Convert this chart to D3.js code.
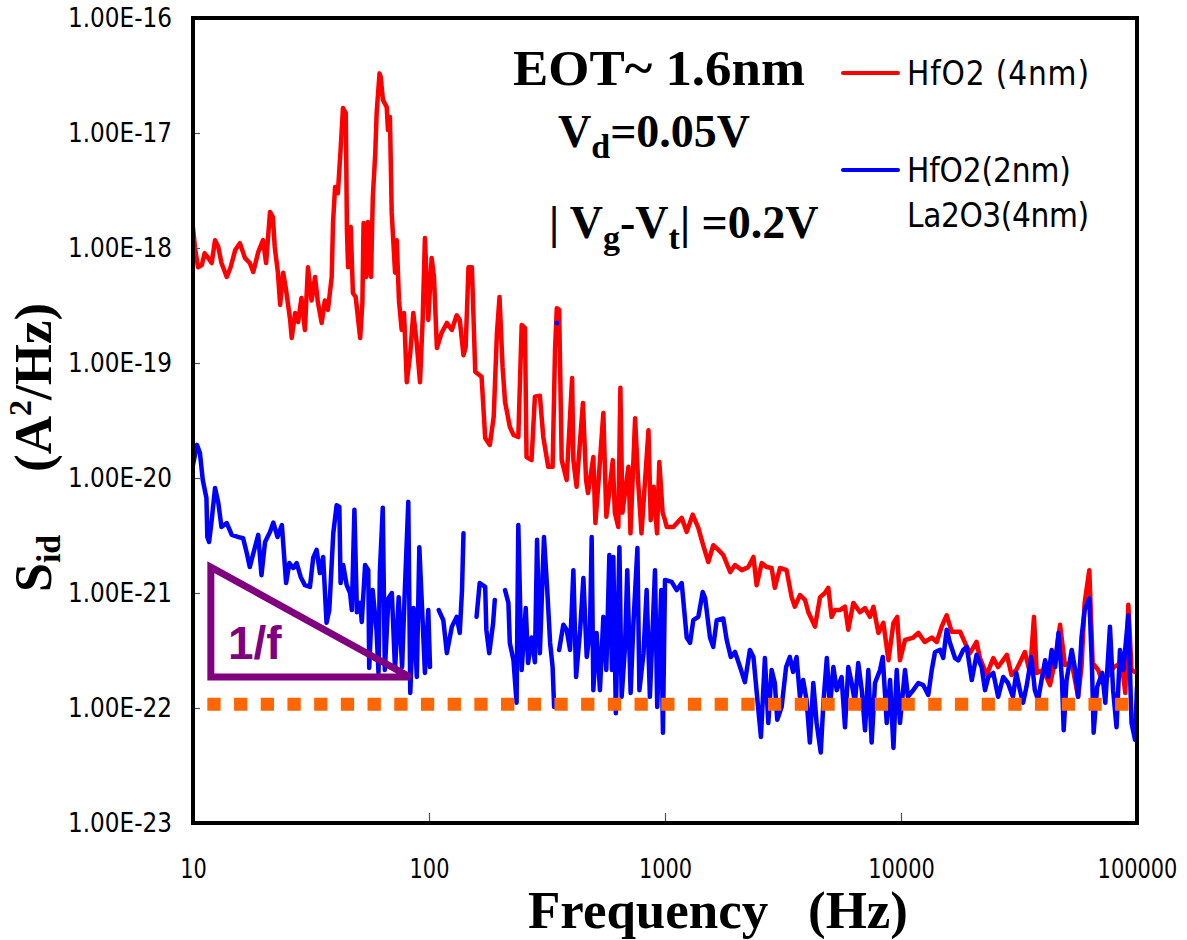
<!DOCTYPE html>
<html><head><meta charset="utf-8">
<script src="https://cdn.jsdelivr.net/npm/d3@7/dist/d3.min.js"></script>
<style>body{margin:0;background:#fff}svg{display:block}</style>
</head><body>
<script>
// ---------- data ----------
const xTickValues = [10, 100, 1000, 10000, 100000];
const xTickLabels = ["10", "100", "1000", "10000", "100000"];
const yTickValues = [1e-23, 1e-22, 1e-21, 1e-20, 1e-19, 1e-18, 1e-17, 1e-16];
const yTickLabels = ["1.00E-23","1.00E-22","1.00E-21","1.00E-20","1.00E-19","1.00E-18","1.00E-17","1.00E-16"];

const redFreq = [10,10.2,10.5,10.9,11.2,11.6,12.0,12.4,12.8,13.2,13.9,14.4,15.1,15.8,16.6,17.4,18.0,18.9,19.8,20.4,
21.2,21.8,22.2,22.9,23.4,24.1,24.8,25.8,26.2,27.1,27.9,28.8,29.8,30.7,31.8,32.9,33.8,35.1,36.2,37.3,
38.7,39.2,40.0,41.1,42.2,43.2,44.4,44.9,45.4,46.6,47.6,48.9,51.1,52.2,52.8,54.2,55.1,56.8,57.8,59.2,
60.0,61.7,62.4,63.8,66.2,67.0,68.3,69.5,71.8,73.0,74.6,76.6,78.4,80.5,83.3,85.8,88.7,91.6,94.0,96.1,
99.3,102.6,105,108,113,119,125,131,135,140,143,147,152,157,167,173,181,188,194,199,
205,210,220,228,239,247,255,259,272,281,295,305,320,334,342,348,356,365,383,404,
409,422,449,463,472,497,507,522,548,564,577,601,613,634,647,660,700,714,747,769,
795,851,870,895,925,946,977,1000,1017,1084,1177,1236,1310,1384,1452,1526,1601,1683,1766,1890,
1980,2115,2255,2370,2445,2570,2695,2830,2920,3070,3275,3440,3550,3730,3920,4050,4320,4540,4760,4920,
5080,5250,5510,5790,5980,6280,6700,7040,7390,7640,8020,8420,8850,9290,9640,9900,10400,11270,11840,12600,
13500,14170,14870,15620,16400,17800,18680,19600,20900,21600,23100,24600,25800,28100,29400,30800,33500,35200,36600,37600,
40100,42800,45000,47200,49500,52900,56300,58200,60000,62800,64900,68500,71700,76800,79800,86100,89200,91900,94800,98100];
const redSid = [1.5e-18,1.0e-18,6.8e-19,7.1e-19,9.0e-19,8.2e-19,7.4e-19,1.17e-18,1.02e-18,7.4e-19,5.6e-19,6.7e-19,9.6e-19,1.1e-18,8.2e-19,7.4e-19,6.2e-19,9.2e-19,1.17e-18,7.4e-19,
2.06e-18,1.86e-18,1.02e-18,6.1e-19,3.2e-19,6.1e-19,4.3e-19,2.37e-19,1.65e-19,2.72e-19,2.27e-19,3.68e-19,1.94e-19,6.8e-19,3.5e-19,5.6e-19,3.4e-19,2.23e-19,3.5e-19,2.9e-19,
5.6e-19,1.65e-18,3.4e-18,3.0e-18,7.1e-18,1.65e-17,1.49e-17,1.43e-18,6.8e-19,1.52e-18,4.06e-19,3.75e-19,1.65e-19,3.3e-19,1.65e-18,5.6e-19,1.68e-18,5.6e-19,2.78e-18,6.7e-18,
1.49e-17,3.3e-17,3.07e-17,1.94e-17,1.68e-17,1.06e-17,1.38e-17,2.02e-18,6.1e-19,1.17e-18,3.5e-19,1.94e-19,2.72e-19,6.8e-20,1.22e-19,2.72e-19,1.49e-19,6.8e-20,2.37e-19,1.22e-18,
2.37e-19,8.2e-19,5.6e-19,1.35e-19,1.82e-19,2.23e-19,1.94e-19,2.6e-19,2.37e-19,1.17e-19,1.38e-19,6.8e-19,6.8e-19,8.4e-20,7.6e-20,2.23e-20,1.94e-20,3.4e-20,1.82e-19,3.75e-19,
9.2e-20,4.6e-20,2.78e-20,2.37e-20,2.27e-20,2.14e-19,2.02e-19,1.52e-20,1.43e-20,5.1e-20,5.2e-20,2.27e-20,1.25e-20,1.25e-20,1.3e-19,3.0e-19,2.9e-19,1.43e-20,9.6e-21,7.4e-20,
1.43e-20,8.4e-21,4.5e-20,9.6e-21,7.4e-21,1.52e-20,4.06e-21,9.0e-21,3.68e-20,4.6e-21,6.8e-21,1.43e-20,5.0e-21,3.75e-21,6.1e-20,5.0e-21,1.25e-20,3.3e-21,3.3e-20,9.6e-21,
3.3e-21,2.6e-20,4.3e-21,8.4e-21,3.3e-21,1.38e-20,5.0e-21,4.3e-21,3.75e-21,3.75e-21,4.5e-21,3.4e-21,4.8e-21,3.68e-21,2.6e-21,1.86e-21,2.6e-21,2.37e-21,2.14e-21,1.52e-21,
1.75e-21,1.58e-21,1.68e-21,2.06e-21,1.17e-21,1.82e-21,1.68e-21,1.65e-21,1.11e-21,1.65e-21,1.58e-21,9.2e-22,7.6e-22,9.6e-22,8.7e-22,6.8e-22,5.1e-22,9.2e-22,1.0e-21,1.11e-21,
6.2e-22,7.1e-22,7.1e-22,7.6e-22,4.8e-22,8.2e-22,6.8e-22,7.4e-22,6.2e-22,7.6e-22,4.5e-22,5.5e-22,2.6e-22,5.5e-22,6.2e-22,2.6e-22,3.9e-22,4.1e-22,4.5e-22,3.75e-22,
4.1e-22,3.75e-22,5.1e-22,6.4e-22,4.6e-22,4.6e-22,3.68e-22,3.0e-22,3.75e-22,2.72e-22,1.94e-22,2.72e-22,2.27e-22,2.9e-22,1.94e-22,2.14e-22,3.07e-22,2.02e-22,6.2e-22,2.02e-22,
2.14e-22,1.58e-22,2.6e-22,5.3e-22,2.37e-22,2.46e-22,1.25e-22,2.27e-22,8.2e-22,1.58e-21,2.46e-22,2.14e-22,1.65e-22,2.02e-22,2.27e-22,2.46e-22,1.35e-22,7.9e-22,2.14e-22,2.06e-22];

// null marks a break in the measured trace
const blueFreq = [10,10.4,10.7,11.0,11.4,11.5,11.7,12.0,12.4,12.8,13.2,13.9,14.6,15.5,16.3,16.9,17.4,18.3,18.9,19.5,
20.2,21.2,21.9,22.8,23.8,24.8,25.6,26.6,27.5,28.6,29.8,31.3,32.3,33.4,34.5,35.6,36.8,37.8,39.3,40.6,
41.7,42.2,43.3,44.8,46.3,47.1,48.3,49.5,51.1,51.9,53.6,55.3,55.8,57.7,59.9,61.1,61.9,63.7,65.0,67.3,
69.6,71.8,74.4,76.9,79.0,81.7,83.3,86.0,88.8,91.0,93.4,96.1,99.3,101,105,
110,115,119,125,131,135,138,140,150,
159,164,173,175,180,187,190,200,
210,217,220,228,235,239,247,257,263,272,281,287,295,307,317,326,334,339,347,
356,371,383,396,409,420,437,451,466,481,489,497,513,530,548,564,581,596,604,619,
641,655,677,692,715,735,764,779,811,836,863,907,927,964,977,980,1000,1067,1121,1177,
1236,1277,1318,1384,1445,1480,1551,1601,1656,1766,1826,1900,1980,2080,2180,2290,2370,2470,2550,2650,
2740,2830,2920,2990,3120,3260,3380,3490,3610,3730,3850,3980,4110,4250,4390,4570,4690,4850,5000,5170,
5340,5600,5790,5980,6180,6380,6590,6820,7040,7270,7510,7760,8150,8370,8700,8990,9290,9590,9900,10400,
10700,11270,11840,12430,13050,13500,13940,14640,15100,15620,16130,16940,17500,18360,18990,19950,20900,21960,22700,23450,
24600,25800,27100,28400,29800,30800,31900,32900,34000,35700,36900,38100,39400,40800,42100,43500,45000,46500,48100,48900,
50300,52900,54700,56300,58200,60000,62800,64500,65500,67800,71200,73400,76800,79200,81900,84700,87500,91900,94800,98100,100000];
const blueSid = [1.3e-20,1.94e-20,1.65e-20,9.6e-21,6.7e-21,3.07e-21,2.78e-21,4.3e-21,8.2e-21,6.1e-21,3.75e-21,4.06e-21,3.2e-21,3.07e-21,3.0e-21,2.23e-21,1.68e-21,2.5e-21,3.2e-21,1.43e-21,
2.78e-21,3.4e-21,4.1e-21,3.07e-21,3.9e-21,1.22e-21,1.82e-21,1.65e-21,1.82e-21,1.38e-21,1.17e-21,1.13e-21,2.02e-21,2.37e-21,1.49e-21,2.06e-21,5.5e-22,7.1e-22,3.3e-21,5.8e-21,
5.6e-21,1.22e-21,1.75e-21,1.17e-21,1.0e-21,7.1e-22,5.3e-21,6.8e-22,8.2e-22,5.6e-22,1.75e-21,1.58e-21,2.23e-22,1.06e-21,4.8e-22,2.02e-22,1.52e-21,5.5e-21,2.14e-22,9.0e-22,
1.0e-21,2.14e-22,9.2e-22,2.27e-22,1.06e-21,6.2e-21,1.35e-22,7.4e-22,1.86e-22,2.5e-21,7.6e-22,2.02e-22,7.1e-22,2.27e-22,null,
7.1e-22,5.8e-22,3.0e-22,5.1e-22,6.2e-22,4.5e-22,1.06e-21,3.3e-21,null,
6.2e-22,1.22e-21,1.13e-21,4.8e-22,3.0e-22,5.5e-22,8.7e-22,null,
1.06e-21,8.2e-22,3.68e-22,2.6e-22,1.11e-22,3.9e-21,2.14e-22,7.4e-22,2.46e-22,4.1e-22,2.5e-22,2.9e-21,3.0e-22,3.07e-21,1.06e-21,3.68e-22,2.27e-22,1.02e-22,null,
3.2e-22,5.3e-22,4.8e-22,3.2e-22,1.58e-21,1.86e-22,4.8e-22,1.35e-21,2.78e-22,4.8e-22,3.07e-21,1.43e-22,4.5e-22,1.43e-22,6.2e-22,2.14e-22,2.14e-21,2.14e-22,2.06e-21,9.0e-23,
2.5e-21,1.25e-22,3.4e-22,1.58e-21,1.35e-22,5.5e-22,2.46e-21,1.43e-22,3.0e-22,1.06e-21,1.25e-22,1.58e-21,1.02e-22,1.06e-21,9.0e-23,6.1e-23,1.3e-21,1.25e-21,1.06e-21,1.22e-21,
4.1e-22,3.68e-22,5.8e-22,6.2e-22,1.02e-21,9.0e-22,4.1e-22,3.4e-22,5.8e-22,6.0e-22,3.9e-22,2.78e-22,3.07e-22,2.27e-22,1.68e-22,3.2e-22,2.78e-22,1.11e-22,5.6e-23,2.72e-22,
7.4e-23,2.14e-22,1.65e-22,7.9e-23,1.02e-22,2.27e-22,2.78e-22,2.06e-22,2.78e-22,1.25e-22,1.75e-22,1.17e-22,5.0e-23,1.65e-22,7.4e-23,4.1e-23,1.11e-22,2.72e-22,1.02e-22,2.27e-22,
1.43e-22,1.86e-22,6.8e-23,2.27e-22,1.65e-22,1.11e-22,2.46e-22,1.43e-22,6.4e-23,2.14e-22,5.0e-23,1.65e-22,2.14e-22,2.78e-22,7.4e-23,1.75e-22,4.5e-23,2.14e-22,7.4e-23,2.14e-22,
1.25e-22,1.43e-22,1.65e-22,1.58e-22,1.3e-22,2.14e-22,3.07e-22,3.2e-22,2.72e-22,4.8e-22,3.68e-22,2.72e-22,2.6e-22,3.2e-22,3.4e-22,1.75e-22,2.9e-22,2.27e-22,1.43e-22,1.86e-22,
2.02e-22,1.25e-22,1.86e-22,1.65e-22,1.25e-22,2.02e-22,1.43e-22,1.11e-22,1.52e-22,2.78e-22,1.43e-22,1.17e-22,1.75e-22,2.6e-22,1.86e-22,3.2e-22,2.27e-22,4.5e-22,1.75e-22,6.4e-23,
1.75e-22,3.2e-22,2.14e-22,1.25e-22,4.1e-22,7.1e-22,9.0e-22,2.14e-22,6.1e-23,1.52e-22,2.02e-22,1.11e-22,5.1e-22,1.43e-22,6.8e-23,3.2e-22,2.14e-22,6.4e-22,7.4e-23,5.3e-23,1.52e-22];

const blueDotFreq = [348];
const blueDotSid = [2.23e-19];

const floorFreq = [11.5, 100000];
const floorSid = [1.08e-22, 1.08e-22];

const slopeFreq = [11.9, 11.9, 83.1];
const slopeSid = [1.68e-21, 1.86e-22, 1.86e-22];

const legendLabels = [["HfO2 (4nm)"], ["HfO2(2nm)", "La2O3(4nm)"]];
const seriesColors = ["#ff0000", "#0000ff"];

// ---------- drawing ----------
const W = 1187, H = 940;
const L = 193, R = 1137, T = 18, B = 823;
const svg = d3.select("body").append("svg").attr("width", W).attr("height", H);
svg.append("rect").attr("width", W).attr("height", H).attr("fill", "#fff");

const x = d3.scaleLog().domain([10, 100000]).range([L, R]);
const y = d3.scaleLog().domain([1e-23, 1e-16]).range([B, T]);

const narrow = "'Liberation Sans Narrow','DejaVu Sans Condensed','Arial Narrow',sans-serif";
const serif = "'Liberation Serif','Times New Roman',serif";

svg.append("clipPath").attr("id", "clip").append("rect")
  .attr("x", L).attr("y", T).attr("width", R - L).attr("height", B - T);
const plot = svg.append("g").attr("clip-path", "url(#clip)");

const line = d3.line().defined(d => d[1] != null).x(d => x(d[0])).y(d => y(d[1]));
const redData = redFreq.map((f, i) => [f, redSid[i]]);
const blueData = blueFreq.map((f, i) => [f, blueSid[i]]);

plot.append("path").datum(redData).attr("d", line)
  .attr("fill", "none").attr("stroke", seriesColors[0]).attr("stroke-width", 4.5)
  .attr("stroke-linejoin", "round").attr("stroke-linecap", "round");
plot.selectAll(".bdot").data(blueDotFreq).enter().append("circle")
  .attr("cx", d => x(d)).attr("cy", (d, i) => y(blueDotSid[i])).attr("r", 2.5).attr("fill", "#0000ff");
plot.append("path").datum(blueData).attr("d", line)
  .attr("fill", "none").attr("stroke", seriesColors[1]).attr("stroke-width", 4.5)
  .attr("stroke-linejoin", "round").attr("stroke-linecap", "round");

// noise floor (dotted orange)
plot.append("path").datum(floorFreq.map((f, i) => [f, floorSid[i]])).attr("d", line)
  .attr("fill", "none").attr("stroke", "#ff6600").attr("stroke-width", 13)
  .attr("stroke-dasharray", "13.3,13.4");

// 1/f triangle
plot.append("path").datum(slopeFreq.map((f, i) => [f, slopeSid[i]]))
  .attr("d", d => line(d) + "Z")
  .attr("fill", "none").attr("stroke", "#800080").attr("stroke-width", 7)
  .attr("stroke-linejoin", "miter");
svg.append("text").attr("x", 228).attr("y", 659).text("1/f")
  .attr("font-family", "'Liberation Sans',Arial,sans-serif").attr("font-weight", "bold")
  .attr("font-size", 46).attr("fill", "#800080");

// axes
const yAxis = d3.axisLeft(y).tickValues(yTickValues).tickFormat((d, i) => yTickLabels[i])
  .tickSizeInner(-7).tickSizeOuter(0).tickPadding(21);
const gy = svg.append("g").attr("transform", `translate(${L},0)`).call(yAxis);
gy.select(".domain").remove();
gy.selectAll(".tick line").attr("stroke", "#555").attr("stroke-width", 1.2);
gy.selectAll(".tick text").attr("font-family", narrow).attr("font-size", 26).attr("fill", "#000")
  .attr("textLength", 104).attr("lengthAdjust", "spacingAndGlyphs");

const xAxis = d3.axisBottom(x).tickValues(xTickValues).tickFormat((d, i) => xTickLabels[i])
  .tickSizeInner(-10).tickSizeOuter(0).tickPadding(37);
const gx = svg.append("g").attr("transform", `translate(0,${B})`).call(xAxis);
gx.select(".domain").remove();
gx.selectAll(".tick line").attr("stroke", "#555").attr("stroke-width", 1.2);
gx.selectAll(".tick text").attr("font-family", narrow).attr("font-size", 26).attr("fill", "#000")
  .attr("textLength", (d, i) => 13.3 * xTickLabels[i].length).attr("lengthAdjust", "spacingAndGlyphs");

// frame
svg.append("rect").attr("x", L).attr("y", T).attr("width", R - L).attr("height", B - T)
  .attr("fill", "none").attr("stroke", "#000").attr("stroke-width", 4);

// axis titles
svg.append("text").attr("x", 528).attr("y", 928)
  .attr("font-family", serif).attr("font-weight", "bold").attr("font-size", 52)
  .attr("textLength", 380).attr("lengthAdjust", "spacingAndGlyphs")
  .attr("xml:space", "preserve").text("Frequency   (Hz)");

const yt1 = svg.append("text").attr("transform", "translate(51,592) rotate(-90)")
  .attr("font-family", serif).attr("font-weight", "bold").attr("font-size", 52);
yt1.append("tspan").text("S");
yt1.append("tspan").attr("font-size", 34).attr("dy", 9).text("id");
const yt2 = svg.append("text").attr("transform", "translate(51,472) rotate(-90)")
  .attr("font-family", serif).attr("font-weight", "bold").attr("font-size", 53);
yt2.append("tspan").text("(A");
yt2.append("tspan").attr("font-size", 32).attr("dy", -20).text("2");
yt2.append("tspan").attr("dy", 20).text("/Hz)");

// annotations
svg.append("text").attr("x", 513).attr("y", 85).attr("font-family", serif).attr("font-weight", "bold")
  .attr("font-size", 50).attr("textLength", 292).attr("lengthAdjust", "spacingAndGlyphs").text("EOT~ 1.6nm");

const vd = svg.append("text").attr("x", 558).attr("y", 147).attr("font-family", serif)
  .attr("font-weight", "bold").attr("font-size", 46);
vd.append("tspan").text("V");
vd.append("tspan").attr("font-size", 34).attr("dy", 11).text("d");
vd.append("tspan").attr("dy", -11).text("=0.05V");

const vg = svg.append("text").attr("x", 549).attr("y", 238).attr("font-family", serif)
  .attr("font-weight", "bold").attr("font-size", 46).attr("xml:space", "preserve");
vg.append("tspan").text("| V");
vg.append("tspan").attr("font-size", 34).attr("dy", 11).text("g");
vg.append("tspan").attr("dy", -11).text("-V");
vg.append("tspan").attr("font-size", 34).attr("dy", 11).text("t");
vg.append("tspan").attr("dy", -11).text("| =0.2V");

// legend
const legY = [73, 170];
legY.forEach((ly, i) => {
  svg.append("line").attr("x1", 843).attr("x2", 898).attr("y1", ly).attr("y2", ly)
    .attr("stroke", seriesColors[i]).attr("stroke-width", 4).attr("stroke-linecap", "round");
  legendLabels[i].forEach((lab, j) => {
    svg.append("text").attr("x", 907).attr("y", ly + 12 + j * 45)
      .attr("font-family", narrow).attr("font-size", 33).attr("fill", "#000")
      .attr("textLength", lab.length * 18.2).attr("lengthAdjust", "spacing").text(lab);
  });
});
</script>
</body></html>
